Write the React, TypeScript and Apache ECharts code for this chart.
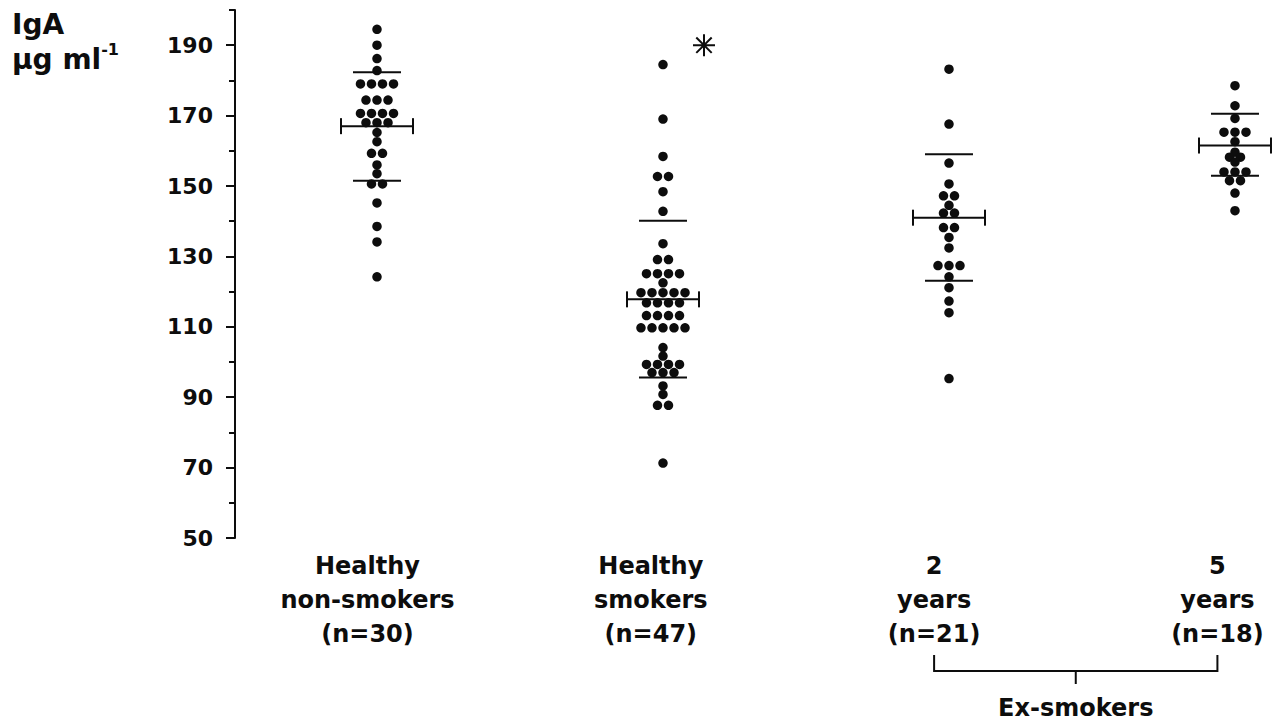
import React, { useEffect, useRef } from "react";
import * as echarts from "echarts";

// Group captions under the x axis
const groupLabels = [
  "Healthy\nnon-smokers\n(n=30)",
  "Healthy\nsmokers\n(n=47)",
  "2\nyears\n(n=21)",
  "5\nyears\n(n=18)",
];

// Individual IgA values (µg/ml); repeated values sit side by side in one row
const nonSmokers = [
  194.5, 190, 186.2, 182.8, 179, 179, 179, 179, 174.4, 174.4, 174.4,
  170.6, 170.6, 170.6, 170.6, 168, 168, 168, 165.2, 162.6, 159.3, 159.3,
  156, 153.5, 150.6, 150.6, 145.2, 138.5, 134.1, 124.2,
];
const smokers = [
  184.5, 169, 158.4, 152.7, 152.7, 148.4, 142.8, 133.6, 129.1, 129.1,
  125.1, 125.1, 125.1, 125.1, 122.5, 119.7, 119.7, 119.7, 119.7, 119.7,
  116.8, 116.8, 116.8, 116.8, 113.2, 113.2, 113.2, 113.2,
  109.7, 109.7, 109.7, 109.7, 109.7, 104.1, 101.7, 99.3, 99.3, 99.3, 99.3,
  97, 97, 97, 93.2, 90.8, 87.7, 87.7, 71.3,
];
const exSmokers2y = [
  183.2, 167.6, 156.5, 150.6, 147.2, 147.2, 144.5, 142.3, 142.3, 138.2,
  138.2, 135.4, 132.4, 127.4, 127.4, 127.4, 124.2, 121.1, 117.3, 114, 95.3,
];
const exSmokers5y = [
  178.5, 172.8, 169.2, 165.3, 165.3, 165.3, 162.6, 159.6, 158.2, 158.2,
  156.8, 154, 154, 154, 151.5, 151.5, 148, 143,
];

// Mean and mean ± SD per group
const groupMeans = [167, 117.8, 141, 161.5];
const sdUpper = [182.3, 140.1, 159, 170.5];
const sdLower = [151.5, 95.6, 123.1, 152.9];

// Y axis ticks
const yTickLabels = [50, 70, 90, 110, 130, 150, 170, 190];
const yMinorTicks = [60, 80, 100, 120, 140, 160, 180, 200];

// Significance marker next to the smokers group
const markedGroup = 2;
const markedValue = 190;

const INK = "#0d0d0d";
const FONT = "DejaVu Sans";
const DOT_STEP = 0.0385; // horizontal spacing of dots sharing a value, in group units

function dotRows(values: number[], groupPos: number): number[][] {
  const counts = new Map<number, number>();
  values.forEach((v) => counts.set(v, (counts.get(v) || 0) + 1));
  const out: number[][] = [];
  counts.forEach((n, v) => {
    for (let j = 0; j < n; j++) out.push([groupPos + (j - (n - 1) / 2) * DOT_STEP, v]);
  });
  return out;
}

export default function App() {
  const ref = useRef<HTMLDivElement>(null);

  useEffect(() => {
    if (!ref.current) return;
    const chart = echarts.init(ref.current, null, { renderer: "svg" });
    const groups = [nonSmokers, smokers, exSmokers2y, exSmokers5y];

    const dotSeries = groups.map((vals, i) => ({
      type: "scatter",
      xAxisIndex: 0,
      yAxisIndex: 0,
      symbol: "circle",
      symbolSize: 9.5,
      itemStyle: { color: INK, opacity: 1 },
      emphasis: { disabled: true },
      data: dotRows(vals, i + 1),
      z: 3,
    }));

    chart.setOption({
      animation: false,
      backgroundColor: "#fff",
      grid: { left: 235, right: 0, top: 10, bottom: 188, containLabel: false },
      xAxis: [
        { type: "value", min: 0.5035, max: 4.1434, show: false, position: "top" },
        {
          type: "value",
          min: 0.5323,
          max: 4.2068,
          position: "bottom",
          axisLine: { show: false },
          axisTick: { show: false },
          splitLine: { show: false },
          axisLabel: {
            customValues: [1, 2, 3, 4],
            formatter: (v: number) => groupLabels[Math.round(v) - 1] || "",
            margin: 11,
            lineHeight: 34,
            fontFamily: FONT,
            fontWeight: "bold",
            fontSize: 24,
            color: INK,
            align: "center",
          },
        },
      ],
      yAxis: [
        {
          type: "value",
          min: 50,
          max: 200,
          interval: 10,
          position: "left",
          axisLine: { show: true, lineStyle: { color: INK, width: 2 } },
          axisTick: { show: true, customValues: yTickLabels, length: 9, lineStyle: { color: INK, width: 2 } },
          axisLabel: {
            customValues: yTickLabels,
            margin: 22,
            fontFamily: FONT,
            fontWeight: "bold",
            fontSize: 22,
            color: INK,
          },
          splitLine: { show: false },
        },
        {
          type: "value",
          min: 50,
          max: 200,
          interval: 10,
          position: "left",
          axisLine: { show: false },
          axisTick: { show: true, customValues: yMinorTicks, length: 6, lineStyle: { color: INK, width: 2 } },
          axisLabel: { show: false },
          splitLine: { show: false },
        },
      ],
      series: [
        ...dotSeries,
        {
          type: "custom",
          xAxisIndex: 0,
          yAxisIndex: 0,
          z: 4,
          data: groupMeans.map((m, i) => [i + 1, m, sdLower[i], sdUpper[i]]),
          renderItem: (_params: any, api: any) => {
            const x = api.value(0);
            const pm = api.coord([x, api.value(1)]);
            const pl = api.coord([x, api.value(2)]);
            const ph = api.coord([x, api.value(3)]);
            const style = { stroke: INK, lineWidth: 2 };
            const seg = (x1: number, y1: number, x2: number, y2: number) => ({
              type: "line",
              shape: { x1, y1, x2, y2 },
              style,
            });
            return {
              type: "group",
              children: [
                seg(pm[0] - 36, pm[1], pm[0] + 36, pm[1]),
                seg(pm[0] - 36, pm[1] - 8, pm[0] - 36, pm[1] + 8),
                seg(pm[0] + 36, pm[1] - 8, pm[0] + 36, pm[1] + 8),
                seg(ph[0] - 24, ph[1], ph[0] + 24, ph[1]),
                seg(pl[0] - 24, pl[1], pl[0] + 24, pl[1]),
              ],
            };
          },
        },
        {
          type: "scatter",
          xAxisIndex: 0,
          yAxisIndex: 0,
          symbol: "path://M10,0L10,20M0,10L20,10M3,3L17,17M3,17L17,3",
          symbolSize: 22,
          symbolOffset: [41, 0],
          itemStyle: { color: "transparent", borderColor: INK, borderWidth: 2, opacity: 1 },
          emphasis: { disabled: true },
          data: [[markedGroup, markedValue]],
          z: 5,
        },
      ],
    });

    // Bracket grouping the two ex-smoker columns
    const xa = chart.convertToPixel({ xAxisIndex: 1 }, 3) as number;
    const xb = chart.convertToPixel({ xAxisIndex: 1 }, 4) as number;
    const xm = (xa + xb) / 2;
    const line = { stroke: INK, lineWidth: 2 };
    chart.setOption({
      graphic: [
        {
          type: "text",
          left: 12,
          top: 10,
          style: {
            text: "{a|IgA}\n{a|μg ml}{s|-1}",
            rich: {
              a: { fontFamily: FONT, fontWeight: "bold", fontSize: 28, lineHeight: 35, fill: INK },
              s: { fontFamily: FONT, fontWeight: "bold", fontSize: 16, lineHeight: 35, verticalAlign: "top", fill: INK },
            },
          },
        },
        {
          type: "polyline",
          shape: { points: [[xa, 655], [xa, 671], [xb, 671], [xb, 655]] },
          style: { ...line, fill: null },
        },
        { type: "line", shape: { x1: xm, y1: 671, x2: xm, y2: 684 }, style: line },
        {
          type: "text",
          x: xm,
          y: 708,
          style: {
            text: "Ex-smokers",
            align: "center",
            verticalAlign: "middle",
            fontFamily: FONT,
            fontWeight: "bold",
            fontSize: 24,
            fill: INK,
          },
        },
      ],
    });

    return () => chart.dispose();
  }, []);

  return (
    <div
      ref={ref}
      style={{ position: "fixed", left: 0, top: 0, width: 1276, height: 726, background: "#fff" }}
    />
  );
}
